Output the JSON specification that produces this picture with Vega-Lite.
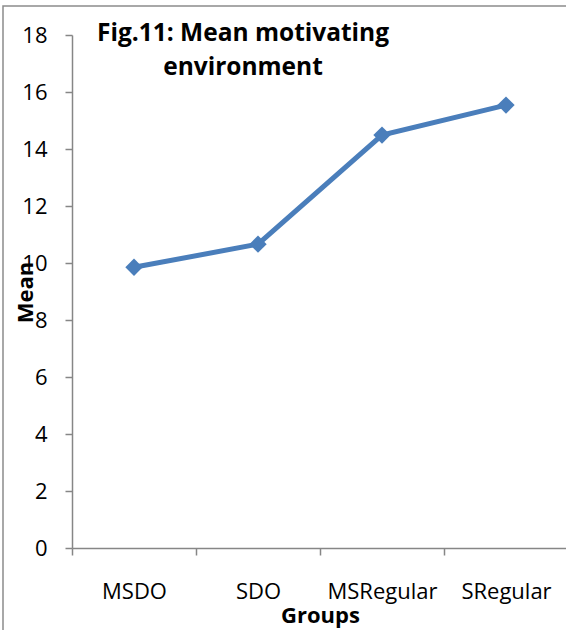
{
  "$schema": "https://vega.github.io/schema/vega-lite/v6.json",
  "autosize": "none",
  "width": 566,
  "height": 626,
  "padding": {"left": 3, "top": 6, "right": 0, "bottom": 0},
  "background": "white",
  "title": {
    "text": ["Fig.11: Mean motivating", "environment"],
    "frame": "group",
    "anchor": "middle",
    "align": "center",
    "baseline": "top",
    "orient": "top",
    "dx": -43,
    "dy": 74,
    "fontSize": 24.5,
    "fontWeight": "bold",
    "font": "Open Sans",
    "color": "black",
    "lineHeight": 34,
    "offset": 0
  },
  "config": {
    "view": {"stroke": "#8c8c8c", "strokeWidth": 1.5},
    "font": "Open Sans"
  },
  "data": {
    "values": [
      {"group": "MSDO", "mean": 9.85},
      {"group": "SDO", "mean": 10.66},
      {"group": "MSRegular", "mean": 14.49},
      {"group": "SRegular", "mean": 15.54}
    ]
  },
  "encoding": {
    "x": {
      "field": "group",
      "type": "nominal",
      "sort": null,
      "bandPosition": 0.5,
      "scale": {"type": "band", "range": [69, 565], "paddingInner": 0, "paddingOuter": 0},
      "axis": {
        "title": "Groups",
        "offset": -84,
        "labelAngle": 0,
        "labelFontSize": 22,
        "labelColor": "black",
        "labelFont": "Open Sans",
        "labelBaseline": "alphabetic",
        "labelPadding": 43,
        "tickBand": "extent",
        "tickSize": 7,
        "tickColor": "#868686",
        "tickWidth": 1.5,
        "domainColor": "#868686",
        "domainWidth": 1.5,
        "titleFontSize": 22,
        "titleFontWeight": "bold",
        "titleColor": "black",
        "titleX": 317,
        "titleY": 67,
        "titleBaseline": "middle",
        "titleAlign": "center",
        "grid": false
      }
    },
    "y": {
      "field": "mean",
      "type": "quantitative",
      "scale": {"domain": [0, 18], "range": [542, 29], "nice": false, "zero": true},
      "axis": {
        "title": "Mean",
        "offset": -69,
        "values": [0, 2, 4, 6, 8, 10, 12, 14, 16, 18],
        "labelFontSize": 22,
        "labelColor": "black",
        "labelPadding": 18,
        "tickSize": 7,
        "tickColor": "#868686",
        "tickWidth": 1.5,
        "domainColor": "#868686",
        "domainWidth": 1.5,
        "titleFontSize": 22,
        "titleFontWeight": "bold",
        "titleColor": "black",
        "titleX": -47,
        "titleY": 286,
        "titleBaseline": "middle",
        "titleAlign": "center",
        "titleAngle": -90,
        "grid": false
      }
    }
  },
  "layer": [
    {
      "mark": {"type": "line", "color": "#4A7EBB", "strokeWidth": 5}
    },
    {
      "mark": {"type": "point", "shape": "diamond", "filled": true, "color": "#4A7EBB", "size": 300, "opacity": 1}
    }
  ]
}
